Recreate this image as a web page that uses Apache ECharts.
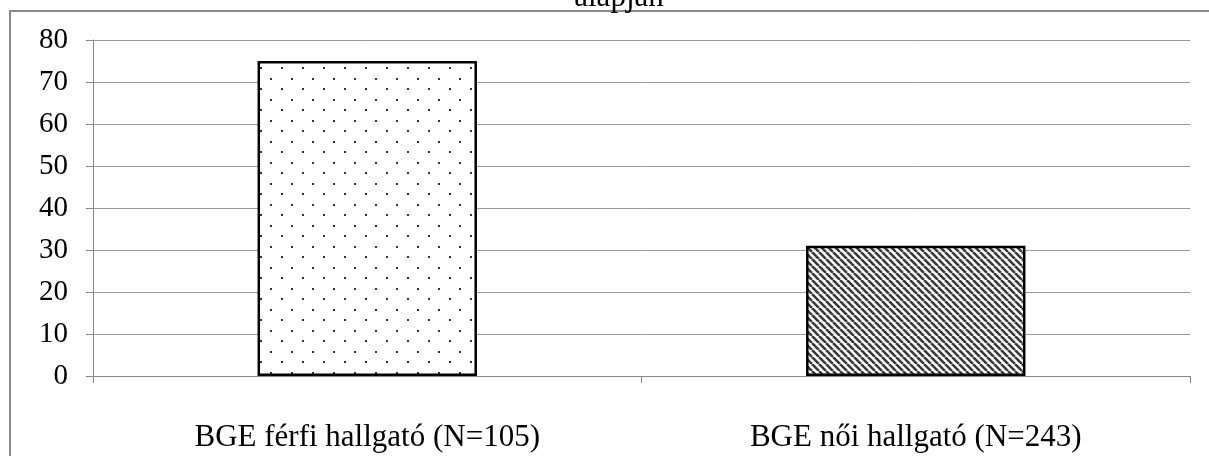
<!DOCTYPE html>
<html><head><meta charset="utf-8">
<script src="https://cdn.jsdelivr.net/npm/echarts@6/dist/echarts.min.js"></script>
<style>html,body{margin:0;padding:0;background:#fff}#c{width:1209px;height:456px}</style>
</head><body><div id="c"></div>
<script>
const categories = ['BGE férfi hallgató (N=105)', 'BGE női hallgató (N=243)'];
const values = [75, 31];
const titleText = 'alapján';
const yMin = 0, yMax = 80, yStep = 10;

function dotPattern() {
  const c = document.createElement('canvas');
  c.width = 21; c.height = 21;
  const g = c.getContext('2d');
  g.fillStyle = '#fff'; g.fillRect(0, 0, 21, 21);
  g.fillStyle = '#333';
  g.fillRect(8, 4, 2, 2);
  g.fillRect(18, 15, 2, 2);
  return c;
}
function hatchPattern() {
  const s = 7;
  const c = document.createElement('canvas');
  c.width = s; c.height = s;
  const g = c.getContext('2d');
  g.fillStyle = '#fff'; g.fillRect(0, 0, s, s);
  g.strokeStyle = '#3a3a3a'; g.lineWidth = 2.6;
  g.beginPath();
  for (let k = -1; k <= 1; k++) {
    g.moveTo(k * s, 0); g.lineTo(k * s + s, s);
  }
  g.stroke();
  return c;
}
const patterns = [dotPattern(), hatchPattern()];

const chart = echarts.init(document.getElementById('c'), null, {renderer: 'canvas'});
const font = 'Liberation Serif';
chart.setOption({
  animation: false,
  title: {text: titleText, left: 614, textAlign: 'center', top: -23,
    textStyle: {fontFamily: font, fontSize: 31, fontWeight: 'normal', color: '#000'}},
  graphic: [{type: 'rect', shape: {x: 10, y: 11, width: 1300, height: 600},
    style: {fill: 'none', stroke: '#888', lineWidth: 2}, z: -1}],
  grid: {left: 93, right: 19, top: 40, bottom: 80},
  xAxis: {type: 'category', data: categories,
    axisLine: {lineStyle: {color: '#888', width: 1}},
    axisTick: {show: true, length: 7, lineStyle: {color: '#888'}},
    axisLabel: {fontFamily: font, fontSize: 31, color: '#000', margin: 46}},
  yAxis: {type: 'value', min: yMin, max: yMax, interval: yStep,
    axisLine: {show: true, lineStyle: {color: '#888'}},
    axisTick: {show: true, length: 7, lineStyle: {color: '#888'}},
    splitLine: {lineStyle: {color: '#999', width: 1}},
    axisLabel: {fontFamily: font, fontSize: 29, color: '#000', margin: 25}},
  series: [{type: 'bar', barWidth: '40%',
    data: values.map((v, i) => ({value: v, itemStyle: {
      color: {image: patterns[i], repeat: 'repeat'},
      borderColor: '#000', borderWidth: 2.5}}))}]
});
</script></body></html>
